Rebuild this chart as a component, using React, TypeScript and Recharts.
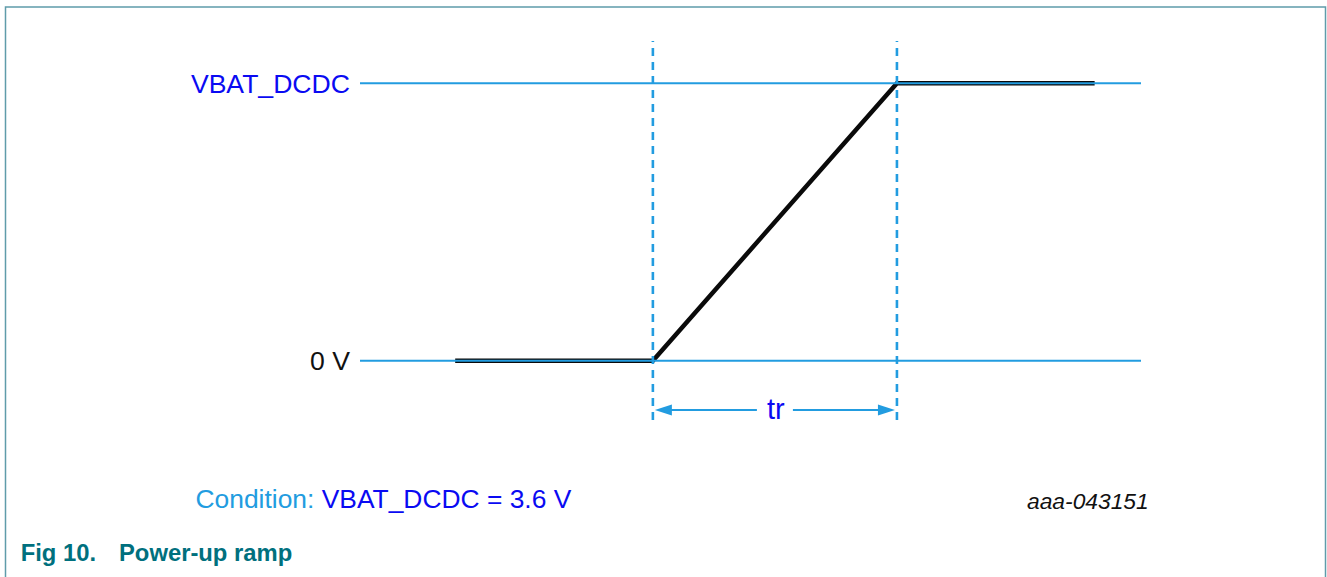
import React from "react";
import { LineChart, Line, XAxis, YAxis, ReferenceLine } from "recharts";

// ---- data ----
// time in units of the rise time tr (0 = ramp start, 1 = ramp end)
const signalTime = [-0.81, 0, 1, 1.81];
const signalVolts = [0, 0, 3.6, 3.6];
const levelValues = [0, 3.6];
const levelLabels = ["0 V", "VBAT_DCDC"];
const levelSpan = [-1.2, 2.0];
const rampMarkers = [0, 1];
const arrowLevel = -0.64;
const arrowLabel = "tr";
const conditionPrefix = "Condition: ";
const conditionText = "VBAT_DCDC = 3.6 V";
const figureId = "aaa-043151";
const figureNumber = "Fig 10.";
const figureTitle = "Power-up ramp";

const signalData = signalTime.map((t, i) => ({ t, v: signalVolts[i] }));
const levelData = levelValues.map((lv) =>
  levelSpan.map((t) => ({ t, v: lv }))
);

const FONT = "'Liberation Sans', Arial, Helvetica, sans-serif";
const LINE_BLUE = "#229ce0";
const TEXT_BLUE = "#0a0af2";
const FIG_TEAL = "#00707e";

const LevelTick = (props: any) => {
  const { x, y, payload } = props;
  const idx = levelValues.indexOf(payload.value);
  const label = idx >= 0 ? levelLabels[idx] : "";
  const color = payload.value === 0 ? "#111111" : TEXT_BLUE;
  return (
    <text
      x={x}
      y={y + 9.5}
      textAnchor="end"
      fontFamily={FONT}
      fontSize={26.6}
      fill={color}
    >
      {label}
    </text>
  );
};

const ArrowShape = (props: any) => {
  const { x1, y1, x2 } = props;
  if (x1 == null || x2 == null) return null;
  const y = y1;
  const left = Math.min(x1, x2) + 2;
  const right = Math.max(x1, x2) - 2;
  const mid = (left + right) / 2;
  const gap = 18;
  const headL = 17;
  const headW = 5.5;
  return (
    <g>
      <line x1={left + headL - 1} y1={y} x2={mid - gap} y2={y} stroke={LINE_BLUE} strokeWidth={2} />
      <line x1={mid + gap} y1={y} x2={right - headL + 1} y2={y} stroke={LINE_BLUE} strokeWidth={2} />
      <polygon
        points={`${left},${y} ${left + headL},${y - headW} ${left + headL},${y + headW}`}
        fill={LINE_BLUE}
      />
      <polygon
        points={`${right},${y} ${right - headL},${y - headW} ${right - headL},${y + headW}`}
        fill={LINE_BLUE}
      />
      <text
        x={mid + 1}
        y={y + 9}
        textAnchor="middle"
        fontFamily={FONT}
        fontSize={29}
        fill={TEXT_BLUE}
      >
        {arrowLabel}
      </text>
    </g>
  );
};

export default function App() {
  return (
    <div
      style={{
        position: "absolute",
        left: 0,
        top: 0,
        width: 1327,
        height: 577,
        overflow: "hidden",
        background: "#ffffff",
      }}
    >
      <div style={{ position: "absolute", left: 0, top: 0 }}>
        <LineChart
          width={1327}
          height={577}
          margin={{ top: 41, right: 186, bottom: 157, left: 160 }}
        >
          <XAxis
            dataKey="t"
            type="number"
            domain={[-1.2, 2.0]}
            allowDataOverflow
            hide
          />
          <YAxis
            type="number"
            domain={[-0.77, 4.15]}
            allowDataOverflow
            width={200}
            ticks={levelValues}
            axisLine={false}
            tickLine={false}
            tickSize={6}
            tickMargin={4}
            tick={<LevelTick />}
            interval={0}
          />
          <Line
            data={signalData}
            dataKey="v"
            type="linear"
            stroke="#0a0a0a"
            strokeWidth={4.5}
            dot={false}
            activeDot={false}
            isAnimationActive={false}
          />
          {levelData.map((d, i) => (
            <Line
              key={i}
              data={d}
              dataKey="v"
              type="linear"
              stroke={LINE_BLUE}
              strokeWidth={2}
              dot={false}
              activeDot={false}
              isAnimationActive={false}
            />
          ))}
          {rampMarkers.map((t) => (
            <ReferenceLine
              key={t}
              x={t}
              stroke={LINE_BLUE}
              strokeWidth={2.6}
              strokeDasharray="8 6"
            />
          ))}
          <ReferenceLine
            segment={[
              { x: rampMarkers[0], y: arrowLevel },
              { x: rampMarkers[1], y: arrowLevel },
            ]}
            shape={<ArrowShape />}
          />
        </LineChart>
      </div>
      <svg
        width={1327}
        height={577}
        style={{ position: "absolute", left: 0, top: 0, pointerEvents: "none" }}
      >
        <rect
          x={5.5}
          y={7}
          width={1320}
          height={640}
          fill="none"
          stroke="#5f9caa"
          strokeWidth={1.5}
        />
        <text x={195.5} y={508} fontFamily={FONT} fontSize={26.4} fill={LINE_BLUE}>
          {conditionPrefix}
          <tspan fill={TEXT_BLUE}>{conditionText}</tspan>
        </text>
        <text
          x={1027}
          y={509.3}
          fontFamily={FONT}
          fontSize={22.8}
          fontStyle="italic"
          fill="#111111"
        >
          {figureId}
        </text>
        <text
          x={20.7}
          y={561}
          fontFamily={FONT}
          fontSize={23.8}
          fontWeight="bold"
          fill={FIG_TEAL}
        >
          {figureNumber}
        </text>
        <text
          x={119}
          y={561}
          fontFamily={FONT}
          fontSize={23.8}
          fontWeight="bold"
          fill={FIG_TEAL}
        >
          {figureTitle}
        </text>
      </svg>
    </div>
  );
}
